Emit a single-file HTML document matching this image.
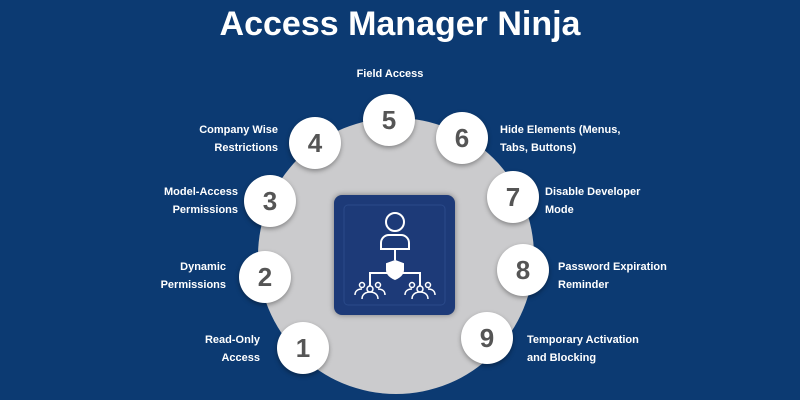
<!DOCTYPE html>
<html><head><style>
body{margin:0;width:800px;height:400px;background:#0c3a72;position:relative;overflow:hidden;font-family:"Liberation Sans",sans-serif;}
.t{position:absolute;top:5px;left:0;width:800px;text-align:center;color:#fff;font-weight:bold;font-size:34px;}
.big{position:absolute;left:258px;top:118px;width:276px;height:276px;border-radius:50%;background:#cbcbcd;}
.n{position:absolute;width:52px;height:52px;border-radius:50%;background:#fff;box-shadow:0 2px 5px rgba(0,0,0,.35);color:#555;font-weight:bold;font-size:26px;text-align:center;line-height:52px;}
.l{position:absolute;color:#fff;font-weight:bold;font-size:11px;line-height:18px;}
.r{text-align:right;}
.box{position:absolute;left:334px;top:195px;width:121px;height:120px;background:#1d3a78;border-radius:8px;box-shadow:0 0 6px rgba(0,0,0,.4);}
</style></head><body>
<div class="t">Access Manager Ninja</div>
<div class="big"></div>
<div class="box"><svg width="121" height="120" viewBox="0 0 121 120" fill="none" stroke="#fff" stroke-width="2">
<rect x="10" y="10" width="101" height="100" rx="4" stroke="#2a4a8a" stroke-width="1"/>
<circle cx="61" cy="27" r="9"/><path d="M47 54v-6a8 8 0 0 1 8-8h12a8 8 0 0 1 8 8v6z"/>
<path d="M61 55v10M36 91V78h50v13"/><path d="M61 66l-8 3v6c0 6 8 9 8 9s8-3 8-9v-6z" fill="#fff"/>
<g stroke-width="1.5"><circle cx="36" cy="94" r="3"/><circle cx="28" cy="90" r="2.5"/><circle cx="44" cy="90" r="2.5"/><path d="M28 104c0-5 4-7 8-7s8 2 8 7M21 100c0-4 3-6 7-6M51 100c0-4-3-6-7-6"/>
<circle cx="86" cy="94" r="3"/><circle cx="78" cy="90" r="2.5"/><circle cx="94" cy="90" r="2.5"/><path d="M78 104c0-5 4-7 8-7s8 2 8 7M71 100c0-4 3-6 7-6M101 100c0-4-3-6-7-6"/></g>
</svg></div>
<div class="n" style="left:363px;top:94px">5</div>
<div class="n" style="left:289px;top:117px">4</div>
<div class="n" style="left:436px;top:112px">6</div>
<div class="n" style="left:244px;top:175px">3</div>
<div class="n" style="left:487px;top:171px">7</div>
<div class="n" style="left:239px;top:251px">2</div>
<div class="n" style="left:497px;top:244px">8</div>
<div class="n" style="left:277px;top:322px">1</div>
<div class="n" style="left:461px;top:312px">9</div>
<div class="l" style="left:340px;top:65px;width:100px;text-align:center">Field Access</div>
<div class="l r" style="left:130px;top:121px;width:148px">Company Wise<br>Restrictions</div>
<div class="l r" style="left:90px;top:183px;width:148px">Model-Access<br>Permissions</div>
<div class="l r" style="left:78px;top:258px;width:148px">Dynamic<br>Permissions</div>
<div class="l r" style="left:112px;top:331px;width:148px">Read-Only<br>Access</div>
<div class="l" style="left:500px;top:121px">Hide Elements (Menus,<br>Tabs, Buttons)</div>
<div class="l" style="left:545px;top:183px">Disable Developer<br>Mode</div>
<div class="l" style="left:558px;top:258px">Password Expiration<br>Reminder</div>
<div class="l" style="left:527px;top:331px">Temporary Activation<br>and Blocking</div>
</body></html>
